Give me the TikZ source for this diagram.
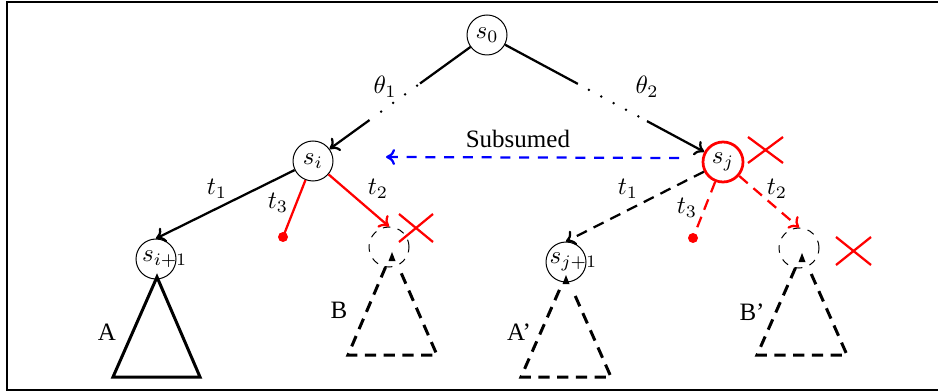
\documentclass[tikz,border=0pt]{standalone}
\usepackage[no-math]{fontspec}
\setmainfont{Liberation Serif}
\usepackage{amsmath,amssymb}
\usepackage{tikz}
\usetikzlibrary{calc,arrows.meta}

\begin{document}
\begin{tikzpicture}[x=0.4pt, y=-0.4pt,
    >={Computer Modern Rightarrow[length=3.6pt, width=6.4pt]},
    state/.style={draw, circle, minimum size=16pt, inner sep=0pt},
    ghost/.style={draw, circle, dashed, minimum size=16pt, inner sep=0pt},
    edge/.style={line width=0.9pt, ->},
    cut/.style={red, line width=0.9pt},
    pruned/.style={line width=0.9pt, dash pattern=on 4.5pt off 3pt},
    tri/.style={line width=1.2pt, line join=miter},
    tridash/.style={line width=1.2pt, dash pattern=on 4.5pt off 3pt}]
    \useasboundingbox (0,0) rectangle (938,392);
    % Frame
    \draw[line width=0.6pt] (938,2) -- (7,2) -- (7,390) -- (938,390);

    % States
    \node[state] (s0) at (487,35) {$s_0$};
    \node[state] (si) at (313,161) {$s_i$};
    \node[state, draw=red, line width=1.1pt] (sj) at (723,162) {$s_j$};
    \node[state, label={[xshift=3.5pt]center:$s_{i+1}$}] (si1) at (156,259) {};
    \node[state, label={[xshift=3pt]center:$s_{j+1}$}] (sj1) at (566,262) {};
    \node[ghost] (gB) at (389,247) {};
    \node[ghost] (gBp) at (799,248) {};
    \coordinate (di) at (283,237);
    \coordinate (dj) at (693,238);

    % Paths from the root, with dotted middle part
    \path (s0.center) -- (si.center) coordinate[pos=0.385] (a1)
        coordinate[pos=0.402] (c1) coordinate[pos=0.63] (d1)
        coordinate[pos=0.675] (b1);
    \draw[line width=0.9pt] (s0) -- (a1);
    \draw[line width=1.1pt, line cap=round, dash pattern=on 0pt off 5.9pt] (c1) -- (d1);
    \draw[edge] (b1) -- (si);
    \node at (385,87) {$\theta_1$};

    \path (s0.center) -- (sj.center) coordinate[pos=0.385] (a2)
        coordinate[pos=0.432] (c2) coordinate[pos=0.65] (d2)
        coordinate[pos=0.678] (b2);
    \draw[line width=0.9pt] (s0) -- (a2);
    \draw[line width=1.1pt, line cap=round, dash pattern=on 0pt off 5.6pt] (c2) -- (d2);
    \draw[edge] (b2) -- (sj);
    \node at (647,87) {$\theta_2$};

    % Subsumption
    \draw[blue, line width=0.9pt, ->, dash pattern=on 4pt off 3.5pt]
        ([xshift=-9pt, yshift=1.6pt]sj.west) -- ([xshift=21pt, yshift=1.6pt]si.east)
        node[pos=0.55, above, black] {Subsumed};

    % Children of s_i
    \draw[edge] (si) -- (si1.north);
    \node at (217,189) {$t_1$};
    \draw[cut] (si) -- (di);
    \fill[red] (di) circle (2pt);
    \node at (278,203) {$t_3$};
    \draw[cut, ->] (si) -- (gB.north);
    \node at (378,189) {$t_2$};
    \draw[cut] (399,214) -- (433,242) (399,242) -- (433,214);

    % Children of s_j
    \draw[pruned, ->] (sj) -- (sj1.north);
    \node at (628,189) {$t_1$};
    \draw[pruned, red] (sj) -- (dj);
    \fill[red] (dj) circle (2pt);
    \node at (687,208) {$t_3$};
    \draw[pruned, red, ->] (sj) -- (gBp.north);
    \node at (777,189) {$t_2$};
    \draw[cut] (748,137) -- (783,163) (748,163) -- (783,137);
    \draw[cut] (836,237) -- (871,265) (836,265) -- (871,237);

    % Subtree A
    \coordinate (At) at (157,277);
    \draw[tri] (At) -- (113,377) -- (200,377) -- cycle;
    \node at (107,332) {A};

    % Subtree B
    \coordinate (Bt) at (392,252);
    \coordinate (Bl) at (348,355);
    \coordinate (Br) at (437,355);
    \draw[tridash] ($(Bt)!0.146!(Bl)$) -- (Bl) -- (Br) -- ($(Bt)!0.146!(Br)$);
    \fill (Bt) -- ++(-3.5,9) -- ++(7,0) -- cycle;
    \node at (339,310) {B};

    % Subtree A'
    \coordinate (Apt) at (566,275);
    \coordinate (Apl) at (521,377);
    \coordinate (Apr) at (611,377);
    \draw[tridash] ($(Apt)!0.146!(Apl)$) -- (Apl) -- (Apr) -- ($(Apt)!0.146!(Apr)$);
    \fill (Apt) -- ++(-3.5,9) -- ++(7,0) -- cycle;
    \node at (519,332) {A'};

    % Subtree B'
    \coordinate (Bpt) at (802,253);
    \coordinate (Bpl) at (757,355);
    \coordinate (Bpr) at (847,355);
    \draw[tridash] ($(Bpt)!0.146!(Bpl)$) -- (Bpl) -- (Bpr) -- ($(Bpt)!0.146!(Bpr)$);
    \fill (Bpt) -- ++(-3.5,9) -- ++(7,0) -- cycle;
    \node at (752,312) {B'};
\end{tikzpicture}
\end{document}
